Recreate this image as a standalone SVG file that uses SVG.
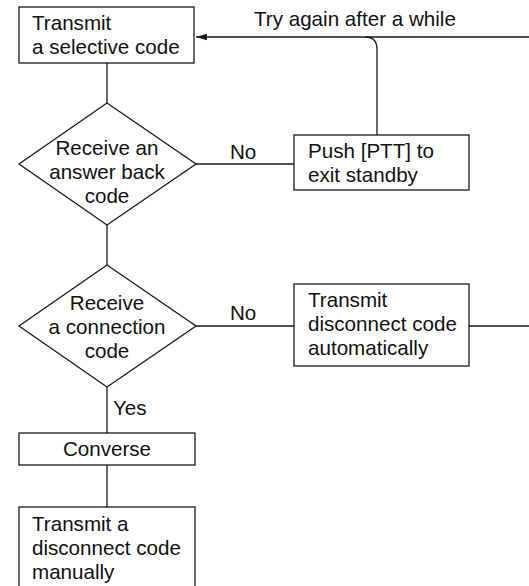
<svg xmlns="http://www.w3.org/2000/svg" width="529" height="586" viewBox="0 0 529 586">
<style>
.n{fill:#fff;stroke:#1a1a1a;stroke-width:1.3}
.c{fill:none;stroke:#1a1a1a;stroke-width:1.3}
text{font-family:"Liberation Sans",Arial,sans-serif;font-size:20.6px;fill:#111}
.m{text-anchor:middle}
</style>
<defs>
<marker id="ah" markerWidth="12" markerHeight="8" refX="11" refY="4" orient="auto" markerUnits="userSpaceOnUse">
<path d="M0,0.8 L11,4 L0,7.2 Z" fill="#1a1a1a"/>
</marker>
</defs>
<rect width="529" height="586" fill="#fff"/>
<g id="connectors">
<line class="c" x1="107" y1="63" x2="107" y2="103"/>
<line class="c" x1="107" y1="225" x2="107" y2="265"/>
<line class="c" x1="107" y1="387" x2="107" y2="433"/>
<line class="c" x1="107" y1="465" x2="107" y2="507"/>
<line class="c" x1="196" y1="164" x2="294" y2="164"/>
<line class="c" x1="196" y1="326" x2="294" y2="326"/>
<line class="c" x1="469" y1="326" x2="529" y2="326"/>
<line class="c" x1="529" y1="37" x2="196" y2="37" marker-end="url(#ah)"/>
<path class="c" d="M377,135 V49 Q377,37 365,37"/>
<text x="254" y="26">Try again after a while</text>
<text x="230" y="159">No</text>
<text x="230" y="320">No</text>
<text x="113" y="415">Yes</text>
</g>
<g id="n1">
<rect class="n" x="19" y="7" width="175" height="56"/>
<text x="32" y="30">Transmit</text>
<text x="32" y="54">a selective code</text>
</g>
<g id="n2">
<polygon class="n" points="107,103 196,164 107,225 19,164"/>
<text class="m" x="107" y="155">Receive an</text>
<text class="m" x="107" y="179">answer back</text>
<text class="m" x="107" y="203">code</text>
</g>
<g id="n3">
<rect class="n" x="294" y="135" width="175" height="55"/>
<text x="308" y="158">Push [PTT] to</text>
<text x="308" y="182">exit standby</text>
</g>
<g id="n4">
<polygon class="n" points="107,265 196,326 107,387 19,326"/>
<text class="m" x="107" y="310">Receive</text>
<text class="m" x="107" y="334">a connection</text>
<text class="m" x="107" y="358">code</text>
</g>
<g id="n5">
<rect class="n" x="294" y="284" width="175" height="82"/>
<text x="308" y="307">Transmit</text>
<text x="308" y="331">disconnect code</text>
<text x="308" y="355">automatically</text>
</g>
<g id="n6">
<rect class="n" x="19" y="433" width="176" height="32"/>
<text class="m" x="107" y="456">Converse</text>
</g>
<g id="n7">
<rect class="n" x="19" y="507" width="176" height="100"/>
<text x="32" y="531">Transmit a</text>
<text x="32" y="555">disconnect code</text>
<text x="32" y="579">manually</text>
</g>
</svg>
